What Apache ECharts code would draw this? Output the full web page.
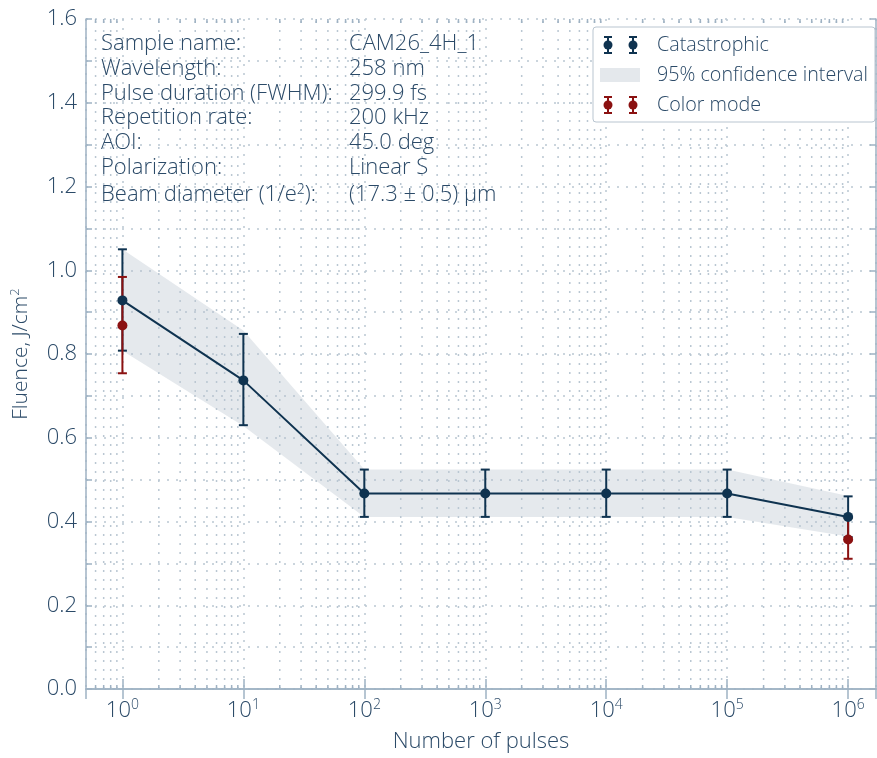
<!DOCTYPE html>
<html><head><meta charset="utf-8">
<script src="https://cdn.jsdelivr.net/npm/echarts@6/dist/echarts.min.js"></script>
<style>html,body{margin:0;padding:0;background:#fff}#c{width:877px;height:758px}</style>
</head><body><div id="c"></div>
<script>
// ---- data ----
const pulses        = [1, 10, 100, 1000, 10000, 100000, 1000000];
const catastrophic  = [0.928, 0.737, 0.467, 0.467, 0.467, 0.467, 0.411];
const catLow        = [0.808, 0.630, 0.411, 0.411, 0.411, 0.411, 0.363];
const catHigh       = [1.050, 0.848, 0.524, 0.524, 0.524, 0.524, 0.460];
const bandLow       = [0.808, 0.628, 0.411, 0.411, 0.411, 0.411, 0.364];
const bandHigh      = [1.050, 0.856, 0.524, 0.524, 0.524, 0.524, 0.461];
const colorPulses   = [1, 1000000];
const colorMode     = [0.868, 0.357];
const colorLow      = [0.754, 0.311];
const colorHigh     = [0.984, 0.409];
const infoLabels = ['Sample name:', 'Wavelength:', 'Pulse duration (FWHM):', 'Repetition rate:', 'AOI:', 'Polarization:', 'Beam diameter (1/e{s|2}):'];
const infoValues = ['CAM26_4H_1', '258 nm', '299.9 fs', '200 kHz', '45.0 deg', 'Linear S', '(17.3 ± 0.5) μm'];
const legendNames = ['Catastrophic', '95% confidence interval', 'Color mode'];
const xName = 'Number of pulses';
const yName = 'Fluence, J/cm';

const NAVY = '#0f3350', RED = '#8b1111', TXT = '#2b4a68', AX = '#9fb2c3', GRID = '#bac7d2';
const FONT = 'Open Sans', FW = 300;
const XMIN = 0.5, XMAX = 1.7e6;

// minor log positions (2..9 x 10^k) within the axis range
const minorX = [];
for (let k = -1; k <= 6; k++) for (let m = 2; m <= 9; m++) { const v = m * Math.pow(10, k); if (v > XMIN && v < XMAX) minorX.push(v); }

const chart = echarts.init(document.getElementById('c'), null, {renderer: 'canvas'});

function errRender(color) {
  return function (params, api) {
    const x = api.value(0), lo = api.value(1), hi = api.value(2);
    const a = api.coord([x, lo]), b = api.coord([x, hi]);
    const w = 4.5, st = {stroke: color, lineWidth: 2};
    return {type: 'group', children: [
      {type: 'line', shape: {x1: a[0], y1: a[1], x2: b[0], y2: b[1]}, style: st},
      {type: 'line', shape: {x1: a[0] - w, y1: a[1], x2: a[0] + w, y2: a[1]}, style: st},
      {type: 'line', shape: {x1: b[0] - w, y1: b[1], x2: b[0] + w, y2: b[1]}, style: st}
    ]};
  };
}

const legendIcon = (x, y, color) => [
  {type: 'line', z: 62, shape: {x1: x, y1: y - 8, x2: x, y2: y + 8}, style: {stroke: color, lineWidth: 2}},
  {type: 'line', z: 62, shape: {x1: x - 4, y1: y - 8, x2: x + 4, y2: y - 8}, style: {stroke: color, lineWidth: 2}},
  {type: 'line', z: 62, shape: {x1: x - 4, y1: y + 8, x2: x + 4, y2: y + 8}, style: {stroke: color, lineWidth: 2}},
  {type: 'circle', z: 63, shape: {cx: x, cy: y, r: 4.5}, style: {fill: color}}
];

const graphics = [];
infoLabels.forEach((t, i) => {
  const y = [44, 69, 94, 118, 143, 168, 195][i];
  graphics.push({type: 'text', x: 101, y: y, z: 50, style: {text: t, fill: TXT, fontSize: 22, fontFamily: FONT, fontWeight: FW, verticalAlign: 'middle',
    rich: {s: {fontSize: 14, fill: TXT, fontFamily: FONT, fontWeight: FW, padding: [0, 0, 10, 0]}}}});
  graphics.push({type: 'text', x: 349, y: y, z: 50, style: {text: infoValues[i], fill: TXT, fontSize: 22, fontFamily: FONT, fontWeight: FW, verticalAlign: 'middle'}});
});
graphics.push({type: 'rect', shape: {x: 593, y: 27, width: 282, height: 95, r: 3}, style: {fill: '#fff', stroke: '#b9c5d0', lineWidth: 1}, z: 60});
graphics.push(...legendIcon(608, 45, NAVY), ...legendIcon(633, 45, NAVY));
graphics.push({type: 'rect', shape: {x: 600, y: 68, width: 40, height: 14}, style: {fill: '#e4e8ec'}, z: 61});
graphics.push(...legendIcon(608, 105, RED), ...legendIcon(633, 105, RED));
legendNames.forEach((t, i) => {
  graphics.push({type: 'text', x: 657, y: 45 + i * 30, z: 61, style: {text: t, fill: TXT, fontSize: 19.7, fontFamily: FONT, fontWeight: FW, verticalAlign: 'middle'}});
});

const supLabel = v => {
  const e = Math.round(Math.log10(v));
  if (Math.abs(Math.log10(v) - e) > 1e-6) return '';
  return '{b|10}{s|' + e + '}';
};

chart.setOption({
  animation: false,
  backgroundColor: '#fff',
  grid: {left: 86, right: 1, top: 19, bottom: 67, containLabel: false},
  xAxis: [{
    type: 'log', logBase: 10, min: XMIN, max: XMAX, position: 'bottom',
    name: xName, nameLocation: 'middle', nameGap: 42,
    nameTextStyle: {color: TXT, fontSize: 22, fontFamily: FONT, fontWeight: FW},
    axisLine: {show: true, lineStyle: {color: AX, width: 1.5}},
    axisTick: {show: true, inside: true, length: 10, lineStyle: {color: AX, width: 1.5}},
    axisLabel: {show: true, margin: 9, formatter: supLabel, showMinLabel: false, showMaxLabel: false,
      rich: {b: {fontSize: 22, color: TXT, fontFamily: FONT, fontWeight: FW}, s: {fontSize: 14, color: TXT, fontFamily: FONT, fontWeight: FW, padding: [0, 0, 11, 0]}}},
    splitLine: {show: true, lineStyle: {color: GRID, width: 1.5, type: [2, 7]}},
    minorTick: {show: false}
  }, {
    type: 'log', logBase: 10, min: XMIN, max: XMAX, position: 'top',
    axisLine: {show: true, lineStyle: {color: AX, width: 1.5}},
    axisTick: {show: true, inside: true, length: 10, lineStyle: {color: AX, width: 1.5}},
    axisLabel: {show: false}, splitLine: {show: false}
  }],
  yAxis: [{
    type: 'value', min: 0, max: 1.6, interval: 0.2, position: 'left',
    name: '{a|' + yName + '}{s|2}', nameLocation: 'middle', nameGap: 53, nameRotate: 90,
    nameTextStyle: {rich: {a: {fontSize: 21, color: TXT, fontFamily: FONT, fontWeight: FW}, s: {fontSize: 13, color: TXT, fontFamily: FONT, fontWeight: FW, padding: [0, 0, 11, 0]}}},
    axisLine: {show: true, lineStyle: {color: AX, width: 1.5}},
    axisTick: {show: true, inside: true, length: 6, lineStyle: {color: AX, width: 1.5}},
    minorTick: {show: true, splitNumber: 2, length: 6, lineStyle: {color: AX, width: 1.5}},
    axisLabel: {color: TXT, fontSize: 22, fontFamily: FONT, fontWeight: FW, margin: 9, formatter: v => v.toFixed(1)},
    splitLine: {show: true, lineStyle: {color: GRID, width: 1.5, type: [2, 7]}},
    minorSplitLine: {show: true, lineStyle: {color: GRID, width: 1.5, type: [2, 7]}}
  }, {
    type: 'value', min: 0, max: 1.6, interval: 0.2, position: 'right',
    axisLine: {show: true, lineStyle: {color: AX, width: 1.5}},
    axisTick: {show: true, inside: true, length: 6, lineStyle: {color: AX, width: 1.5}},
    minorTick: {show: true, splitNumber: 2, length: 6, lineStyle: {color: AX, width: 1.5}},
    axisLabel: {show: false}, splitLine: {show: false}
  }],
  graphic: graphics,
  series: [
    { // confidence band
      type: 'custom', name: legendNames[1], z: 1, silent: true,
      data: [[pulses[0], bandLow[0], bandHigh[0]]],
      encode: {x: 0, y: [1, 2]},
      renderItem: function (params, api) {
        const pts = [];
        for (let i = 0; i < pulses.length; i++) pts.push(api.coord([pulses[i], bandHigh[i]]));
        for (let i = pulses.length - 1; i >= 0; i--) pts.push(api.coord([pulses[i], bandLow[i]]));
        return {type: 'polygon', shape: {points: pts}, style: {fill: 'rgba(180,192,204,0.35)'}};
      }
    },
    { // minor log grid lines and ticks
      type: 'custom', z: 2, silent: true,
      data: minorX.map(v => [v, 0.8]),
      encode: {x: 0, y: 1},
      renderItem: function (params, api) {
        const cs = params.coordSys;
        const x = api.coord([api.value(0), 0])[0];
        return {type: 'group', children: [
          {type: 'line', shape: {x1: x, y1: cs.y + cs.height, x2: x, y2: cs.y}, style: {stroke: GRID, lineWidth: 1.5, lineDash: [2, 7]}},
          {type: 'line', shape: {x1: x, y1: cs.y + cs.height, x2: x, y2: cs.y + cs.height - 4}, style: {stroke: AX, lineWidth: 1.5}},
          {type: 'line', shape: {x1: x, y1: cs.y, x2: x, y2: cs.y + 4}, style: {stroke: AX, lineWidth: 1.5}}
        ]};
      }
    },
    {
      type: 'custom', name: legendNames[0] + ' err', z: 5,
      data: pulses.map((p, i) => [p, catLow[i], catHigh[i]]),
      encode: {x: 0, y: [1, 2]},
      renderItem: errRender(NAVY)
    },
    {
      type: 'custom', name: legendNames[2] + ' err', z: 6,
      data: colorPulses.map((p, i) => [p, colorLow[i], colorHigh[i]]),
      encode: {x: 0, y: [1, 2]},
      renderItem: errRender(RED)
    },
    {
      type: 'scatter', name: legendNames[2], z: 7,
      data: colorPulses.map((p, i) => [p, colorMode[i]]),
      symbol: 'circle', symbolSize: 10, itemStyle: {color: RED, opacity: 1}
    },
    {
      type: 'line', name: legendNames[0], z: 8,
      data: pulses.map((p, i) => [p, catastrophic[i]]),
      symbol: 'circle', symbolSize: 10, showSymbol: true,
      lineStyle: {color: NAVY, width: 2}, itemStyle: {color: NAVY, opacity: 1}
    }
  ]
});
</script></body></html>
